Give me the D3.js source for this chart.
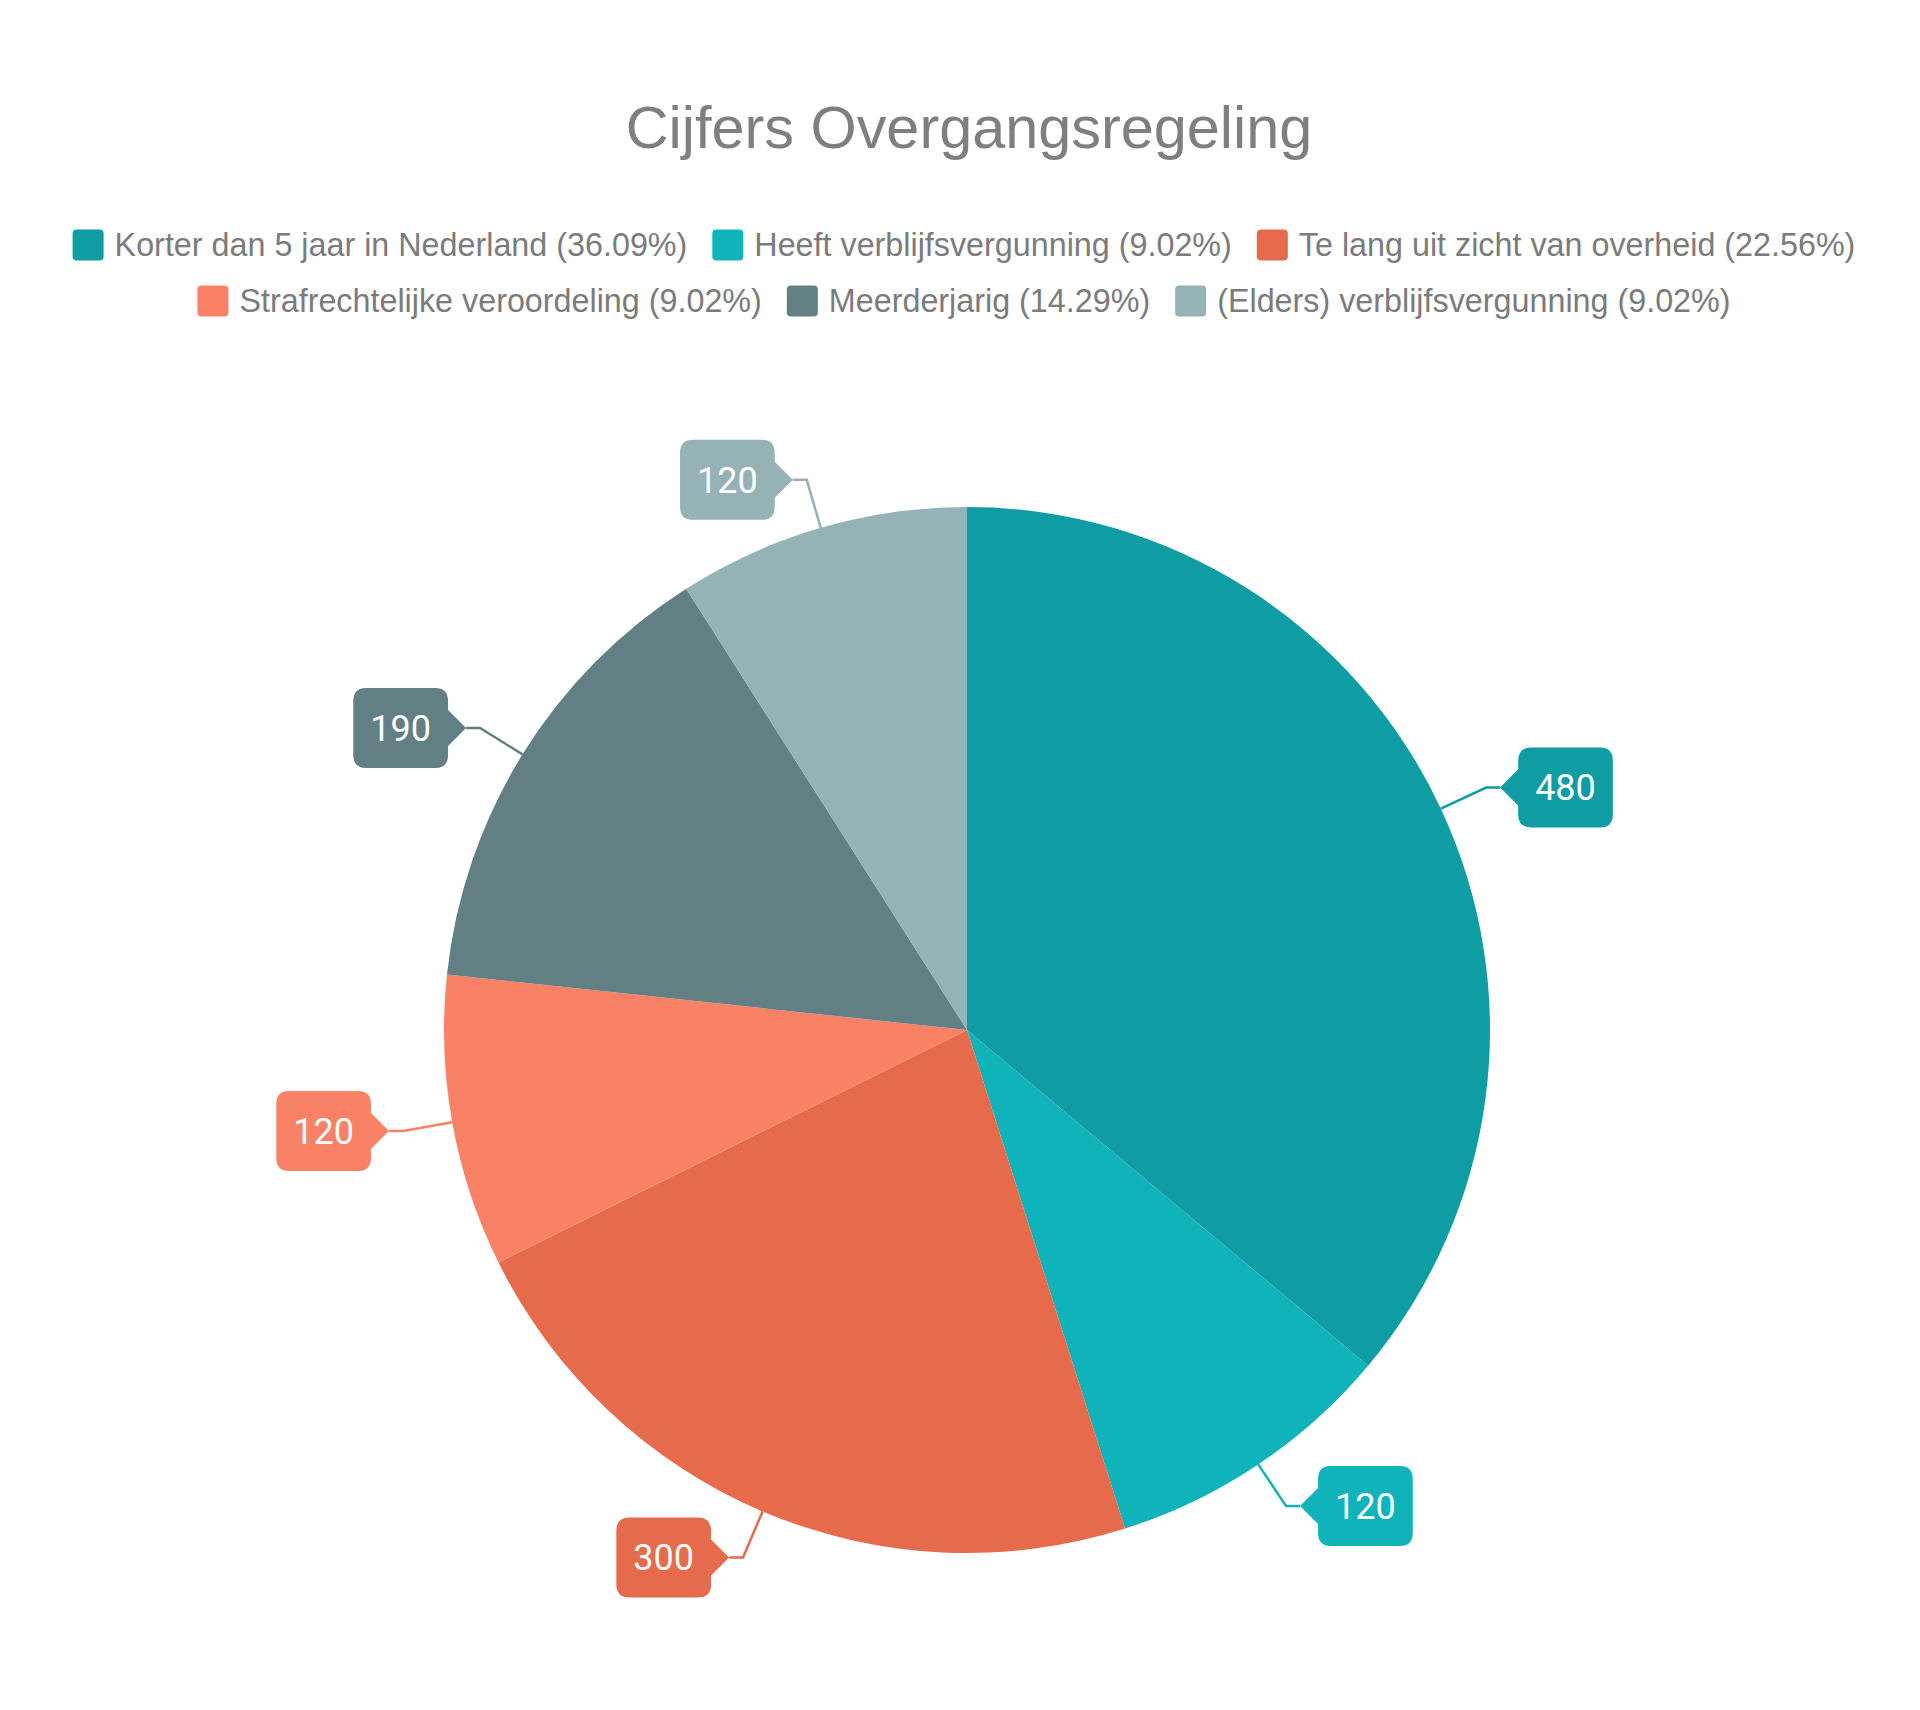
<!DOCTYPE html>
<html><head><meta charset="utf-8">
<script src="https://cdn.jsdelivr.net/npm/d3@7"></script>
<style>body{margin:0;background:#fff}</style>
</head><body>
<svg id="chart" width="1920" height="1710"></svg>
<script>
const title = "Cijfers Overgangsregeling";
const categories = ["Korter dan 5 jaar in Nederland","Heeft verblijfsvergunning","Te lang uit zicht van overheid","Strafrechtelijke veroordeling","Meerderjarig","(Elders) verblijfsvergunning"];
const values = [480,120,300,120,190,120];
const colors = ["#0f9ca3","#10b3ba","#e66b4c","#f98266","#628084","#95b2b6"];

const svg = d3.select("#chart");
const W = 1920;
const cx = 967, cy = 1030, R = 523;
const total = d3.sum(values);
const data = categories.map((c,i)=>({name:c,value:values[i],color:colors[i]}));

svg.append("text").attr("x",W/2 + 9).attr("y",148).attr("text-anchor","middle")
  .attr("font-family","'Liberation Sans',Arial,sans-serif").attr("font-size",59.4)
  .attr("fill","#7f7f7f").text(title);

// legend
const fmt = d3.format(".2f");
const legendFont = 32.3, sw = 31, gapT = 11, gapI = 25, maxW = 1820;
const meas = svg.append("text").attr("font-family","'Liberation Sans',Arial,sans-serif").attr("font-size",legendFont);
const items = data.map(d=>{
  const label = `${d.name} (${fmt(d.value/total*100)}%)`;
  meas.text(label);
  const tw = meas.node().getComputedTextLength();
  return {d,label,w:sw+gapT+tw};
});
meas.remove();
const rows=[]; let cur=[], curW=0;
items.forEach(it=>{
  const add = (cur.length?gapI:0)+it.w;
  if(cur.length && curW+add>maxW){rows.push({items:cur,w:curW}); cur=[it]; curW=it.w;}
  else {cur.push(it); curW+=add;}
});
rows.push({items:cur,w:curW});
rows.forEach((row,ri)=>{
  let x = W/2 - row.w/2 + 4;
  const y = 245 + ri*56;
  row.items.forEach(it=>{
    const g = svg.append("g").attr("transform",`translate(${x},${y})`);
    g.append("rect").attr("x",0).attr("y",-sw/2).attr("width",sw).attr("height",sw).attr("rx",4).attr("fill",it.d.color);
    g.append("text").attr("x",sw+gapT).attr("y",0).attr("dy","0.35em")
      .attr("font-family","'Liberation Sans',Arial,sans-serif").attr("font-size",legendFont)
      .attr("fill","#7b7b7b").text(it.label);
    x += it.w+gapI;
  });
});

// pie
const pie = d3.pie().value(d=>d.value).sort(null);
const arcs = pie(data);
const arc = d3.arc().innerRadius(0).outerRadius(R);
const pg = svg.append("g").attr("transform",`translate(${cx},${cy})`);
pg.selectAll("path.slice").data(arcs).join("path").attr("class","slice")
  .attr("d",arc).attr("fill",d=>d.data.color);

// labels
const ext = 50, hor = 14, ptr = 18, bh = 80, pad = 17, cr = 13, labelFont = 36;
arcs.forEach(a=>{
  const m = (a.startAngle+a.endAngle)/2;
  const sx = Math.sin(m), sy = -Math.cos(m);
  const p0 = [R*sx, R*sy], p1 = [(R+ext)*sx,(R+ext)*sy];
  const dir = sx>=0?1:-1;
  const p2 = [p1[0]+dir*hor, p1[1]];
  pg.append("path").attr("d",d3.line()([p0,p1,p2])).attr("fill","none")
    .attr("stroke",a.data.color).attr("stroke-width",2.5);
  const t = pg.append("text").attr("font-family","Roboto,sans-serif").attr("font-size",labelFont)
    .attr("fill","#fff").attr("text-anchor","middle").attr("dy","0.36em").text(a.data.value);
  const tw = t.node().getComputedTextLength();
  const bw = tw+2*pad;
  const tipX = p2[0], tipY = p2[1];
  const bx0 = dir>0 ? tipX+ptr : tipX-ptr-bw;
  const bx1 = bx0+bw, by0 = tipY-bh/2, by1 = tipY+bh/2;
  const ph = 18;
  let d;
  if(dir>0){
    d = `M${bx0+cr},${by0} L${bx1-cr},${by0} Q${bx1},${by0} ${bx1},${by0+cr} L${bx1},${by1-cr} Q${bx1},${by1} ${bx1-cr},${by1} L${bx0+cr},${by1} Q${bx0},${by1} ${bx0},${by1-cr} L${bx0},${tipY+ph} L${tipX},${tipY} L${bx0},${tipY-ph} L${bx0},${by0+cr} Q${bx0},${by0} ${bx0+cr},${by0} Z`;
  } else {
    d = `M${bx0+cr},${by0} L${bx1-cr},${by0} Q${bx1},${by0} ${bx1},${by0+cr} L${bx1},${tipY-ph} L${tipX},${tipY} L${bx1},${tipY+ph} L${bx1},${by1-cr} Q${bx1},${by1} ${bx1-cr},${by1} L${bx0+cr},${by1} Q${bx0},${by1} ${bx0},${by1-cr} L${bx0},${by0+cr} Q${bx0},${by0} ${bx0+cr},${by0} Z`;
  }
  pg.insert("path","text").attr("d",d).attr("fill",a.data.color);
  t.attr("x",(bx0+bx1)/2).attr("y",tipY).raise();
});
</script>
</body></html>
